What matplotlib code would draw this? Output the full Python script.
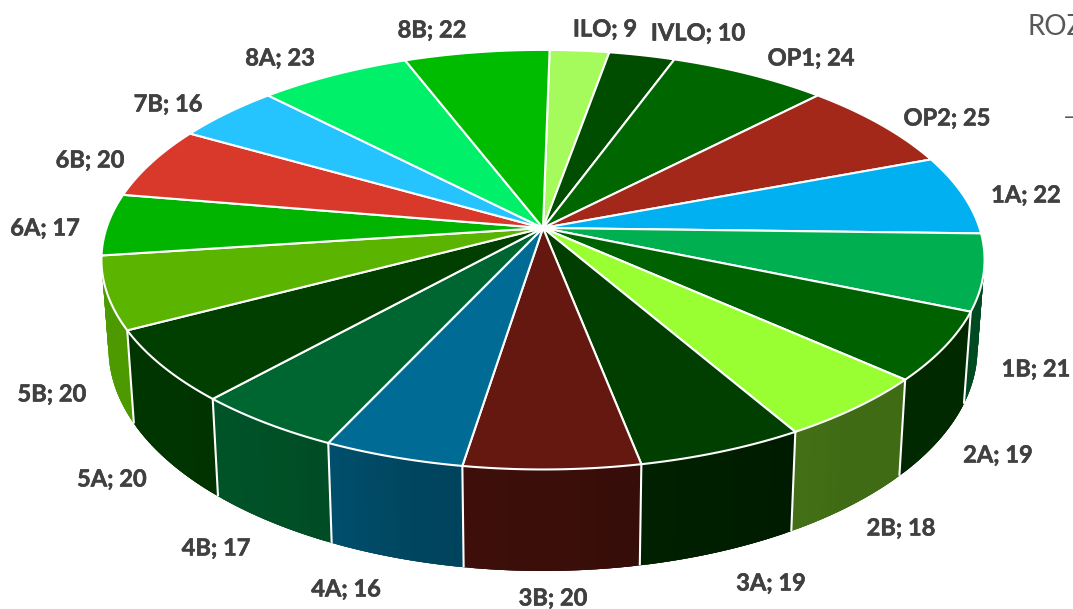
import numpy as np
import matplotlib
matplotlib.use("Agg")
import matplotlib.pyplot as plt
import matplotlib.patheffects as pe
from matplotlib.patches import Polygon

plt.rcParams['font.family'] = ['Lato', 'DejaVu Sans']

# data
categories = ["ILO", "IVLO", "OP1", "OP2", "1A", "1B", "2A", "2B", "3A", "3B",
              "4A", "4B", "5A", "5B", "6A", "6B", "7B", "8A", "8B"]
values = [9, 10, 24, 25, 22, 21, 19, 18, 19, 20, 16, 17, 20, 20, 17, 20, 16, 23, 22]

# styling
colors = ["#A6FB5C", "#004D00", "#006600", "#A3281A", "#00B0F0", "#00B050", "#006100",
          "#99FF33", "#003F00", "#641810", "#006B94", "#006631", "#003F00", "#5AB400",
          "#00B400", "#D9392A", "#26C4FF", "#00F06A", "#00BC00"]
label_x = [605, 698, 811, 947, 1026, 1036, 998, 901, 771, 553, 346, 216, 112, 52, 45, 90, 168, 280, 432]
label_y = [29, 33, 58, 118, 195, 369, 455, 528, 583, 598, 589, 548, 479, 394, 228, 160, 104, 58, 30]

W, H = 1073, 609
CX, CY = 543, 228
A, B, K = 436.5, 205, 0.151
START_DEG = 1.0
XS, YS, DY = 0.984, 1.06, 87


def top(theta):
    u, v = np.sin(theta), np.cos(theta)
    w = 1 + K * v
    return CX + A * u / w, CY - B * v / w


def bottom(theta):
    x, y = top(theta)
    return CX + (x - CX) * XS, CY + DY + (y - CY) * YS


def shade(theta):
    return np.interp(np.sin(theta), [-1, -0.9, -0.5, -0.25, 0.05, 0.3, 0.6, 1],
                     [0.87, 0.85, 0.78, 0.65, 0.58, 0.48, 0.42, 0.42])


fig = plt.figure(figsize=(W / 100, H / 100), dpi=100, facecolor="white")
ax = fig.add_axes([0, 0, 1, 1])
ax.set_xlim(0, W)
ax.set_ylim(H, 0)
ax.axis("off")

vals = np.array(values, dtype=float)
edges = np.radians(START_DEG + np.concatenate([[0], np.cumsum(vals)]) / vals.sum() * 360)

# side wall: strips painted back to front, each overlapping its neighbours to hide seams
strips = []
for i, c in enumerate(colors):
    rgb = np.array(matplotlib.colors.to_rgb(c))
    th = np.linspace(edges[i], edges[i + 1], 25)
    for a, b in zip(th[:-1], th[1:]):
        mid = (a + b) / 2
        if np.cos(mid) > 0.15:
            continue
        step = b - a
        lo, hi = max(a - step, edges[i]), min(b + step, edges[i + 1])
        strips.append((np.cos(mid), lo, hi, rgb * shade(mid)))
strips.sort(key=lambda s: -s[0])
for order, (_, lo, hi, col) in enumerate(strips):
    t = np.linspace(lo, hi, 6)
    xt, yt = top(t)
    xb, yb = bottom(t[::-1])
    pts = np.column_stack([np.r_[xt, xb], np.r_[yt, yb]])
    ax.add_patch(Polygon(pts, closed=True, fc=col, ec="none", zorder=2 + order * 1e-4))

# separators on the wall
for e in edges[:-1]:
    if np.cos(e) < 0 and abs(np.sin(e)) < 0.985:
        xa, ya = top(e)
        xb, yb = bottom(e)
        ax.plot([xa, xb], [ya, yb], color="white", lw=1.5, zorder=3, solid_capstyle="butt")

# top surface
for i, c in enumerate(colors):
    th = np.linspace(edges[i], edges[i + 1], 60)
    x, y = top(th)
    pts = np.column_stack([np.r_[CX, x], np.r_[CY, y]])
    ax.add_patch(Polygon(pts, closed=True, fc=c, ec="white", lw=1.5, joinstyle="round", zorder=4))

# labels
for name, v, lx, ly in zip(categories, values, label_x, label_y):
    ax.text(lx, ly, f"{name}; {v}", ha="center", va="center", fontsize=17,
            fontweight="bold", color="#404040", zorder=5,
            path_effects=[pe.withStroke(linewidth=0.4, foreground="#404040")])

# clipped title fragments at the right edge
ax.text(1027, 27, "ROZ", ha="left", va="center", fontsize=20, color="#595959", zorder=5)
ax.text(1063, 117, "–", ha="left", va="center", fontsize=17, color="#595959", zorder=5)

fig.savefig("out.png", dpi=100, facecolor="white")
